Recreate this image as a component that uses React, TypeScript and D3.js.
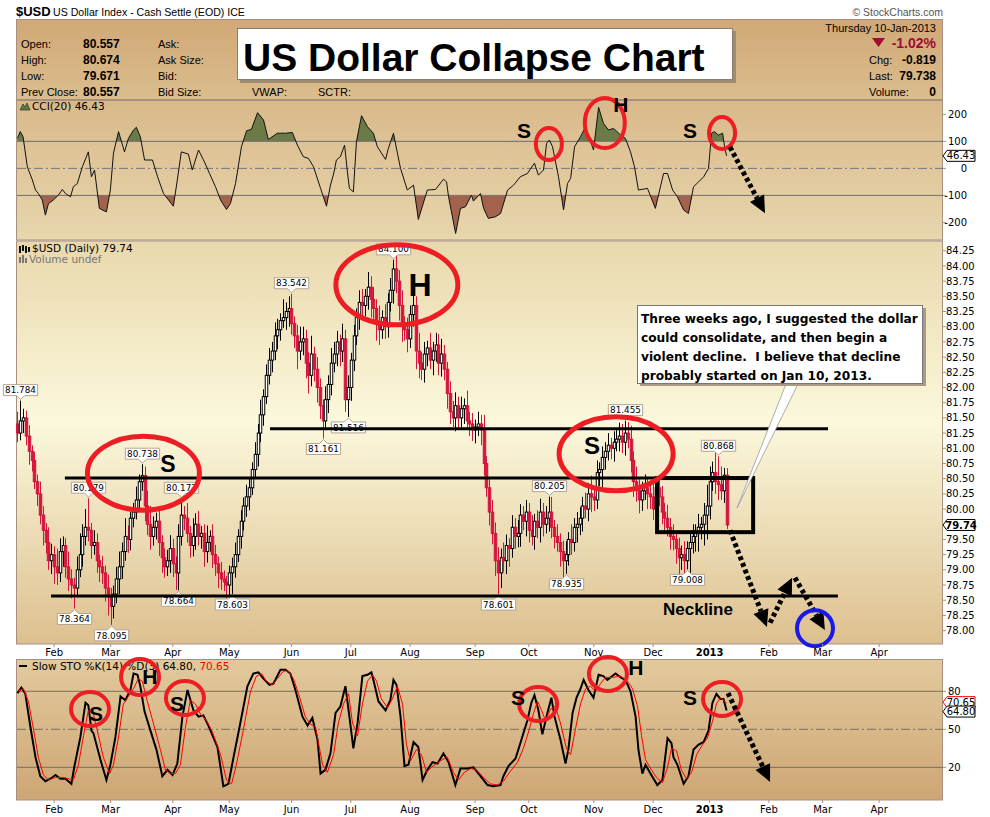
import React from 'react';
import * as d3 from 'd3';

// ---- daily bars (bar index 0 = mid Jan 2012, 251 = 10 Jan 2013)
const firstOpen = 81.4;
const closes = [
  81.25, 81.45, 81.50, 81.20, 80.95, 80.80, 80.45, 80.25, 79.90, 79.65,
  79.45, 79.15, 79.25, 79.05, 78.95, 79.30, 79.40, 79.05, 78.85, 78.75,
  78.70, 79.00, 79.25, 79.55, 79.70, 79.65, 79.40, 79.45, 79.15, 79.05,
  78.95, 78.70, 78.55, 78.40, 78.60, 78.85, 79.05, 79.30, 79.55, 79.50,
  79.85, 79.95, 80.15, 80.45, 80.55, 80.05, 79.75, 79.55, 79.70, 79.80,
  79.45, 79.20, 79.05, 79.15, 79.35, 79.10, 78.95, 79.55, 79.90, 79.85,
  79.60, 79.40, 79.55, 79.75, 79.55, 79.60, 79.30, 79.45, 79.55, 79.25,
  79.10, 78.95, 78.85, 78.80, 78.75, 78.95, 79.05, 79.25, 79.55, 79.80,
  80.05, 80.20, 80.35, 80.65, 80.90, 81.25, 81.55, 81.85, 82.20, 82.45,
  82.60, 82.85, 82.95, 83.10, 83.15, 83.25, 83.30, 83.05, 82.85, 82.60,
  82.75, 82.80, 82.40, 82.20, 82.55, 82.30, 82.00, 81.70, 81.45, 81.80,
  82.05, 82.40, 82.55, 82.75, 82.60, 82.80, 81.80, 82.00, 82.45, 82.85,
  83.15, 83.40, 83.35, 83.50, 83.65, 83.45, 83.30, 83.05, 82.95, 83.15,
  83.00, 83.40, 83.60, 83.95, 83.75, 83.35, 83.05, 82.95, 82.80, 83.20,
  83.35, 82.60, 82.40, 82.30, 82.55, 82.65, 82.45, 82.60, 82.70, 82.40,
  82.55, 82.30, 81.90, 81.60, 81.50, 81.70, 81.50, 81.65, 81.70, 81.45,
  81.40, 81.30, 81.35, 81.40, 81.30, 80.75, 80.35, 79.95, 79.60, 79.15,
  78.95, 79.20, 79.15, 79.40, 79.35, 79.70, 79.55, 79.60, 79.90, 79.80,
  79.95, 79.65, 79.55, 79.80, 79.70, 79.95, 79.75, 79.85, 79.95, 79.70,
  79.55, 79.45, 79.30, 79.15, 79.25, 79.50, 79.45, 79.70, 79.75, 79.85,
  80.05, 80.00, 80.25, 80.20, 80.15, 80.60, 80.65, 80.85, 80.95, 81.05,
  81.00, 81.10, 81.15, 81.20, 81.10, 81.25, 81.15, 80.80, 80.45, 80.30,
  80.15, 80.30, 80.35, 80.25, 80.20, 80.00, 80.35, 80.20, 79.95, 79.85,
  79.70, 79.55, 79.50, 79.35, 79.20, 79.25, 79.15, 79.35, 79.45, 79.55,
  79.60, 79.70, 79.75, 79.90, 80.05, 80.45, 80.60, 80.45, 80.40, 80.30,
  80.557, 79.738,
];
// wick above / below the body, in hundredths
const hiExt = [
  20, 28, 15, 12, 18, 10, 14, 12, 20, 15, 12, 25, 18, 14, 30, 22, 15, 12, 25, 16,
  12, 22, 35, 20, 30, 50, 12, 20, 15, 10, 18, 12, 22, 15, 14, 20, 25, 15, 30, 18,
  10, 15, 22, 12, 20, 15, 25, 30, 18, 14, 20, 12, 15, 18, 22, 16, 12, 20, 30, 15,
  25, 12, 30, 18, 22, 12, 15, 28, 10, 20, 16, 12, 18, 14, 10, 12, 15, 20, 12, 18,
  14, 20, 15, 12, 20, 15, 25, 12, 18, 20, 15, 22, 18, 12, 30, 15, 20, 25, 12, 18,
  25, 20, 15, 18, 30, 12, 20, 15, 10, 22, 15, 25, 20, 18, 12, 25, 15, 20, 12, 18,
  15, 20, 22, 12, 25, 18, 20, 15, 30, 12, 22, 15, 20, 10, 30, 18, 25, 12, 20, 15,
  22, 15, 30, 18, 20, 12, 25, 15, 20, 18, 25, 15, 12, 20, 18, 22, 15, 20, 12, 25,
  15, 18, 12, 20, 15, 25, 12, 15, 20, 18, 22, 15, 25, 18, 12, 20, 15, 22, 18, 15,
  20, 15, 25, 12, 18, 22, 15, 20, 15, 25, 12, 20, 15, 18, 22, 12, 25, 15, 20, 18,
  15, 22, 18, 30, 15, 20, 12, 18, 15, 20, 12, 18, 15, 22, 20, 15, 18, 22, 15, 25,
  20, 15, 22, 18, 15, 25, 12, 20, 18, 15, 22, 15, 20, 12, 18, 15, 22, 12, 18, 20,
  15, 22, 12, 20, 35, 25, 18, 45, 20, 30, 12, 12,
];
const loExt = [
  15, 12, 20, 15, 22, 18, 12, 20, 15, 25, 18, 15, 22, 28, 20, 15, 25, 18, 20, 22,
  25, 15, 12, 20, 15, 18, 22, 15, 20, 25, 18, 22, 30, 25, 20, 15, 25, 20, 15, 22,
  18, 15, 12, 20, 15, 25, 18, 22, 15, 20, 22, 25, 18, 15, 20, 22, 28, 30, 15, 20,
  15, 20, 18, 22, 15, 20, 25, 18, 15, 22, 20, 25, 18, 15, 22, 20, 15, 18, 12, 20,
  15, 18, 22, 12, 15, 20, 15, 18, 12, 15, 20, 15, 22, 18, 12, 20, 25, 18, 20, 30,
  15, 22, 25, 30, 18, 20, 25, 22, 20, 15, 22, 18, 15, 20, 25, 18, 20, 15, 22, 18,
  15, 20, 25, 18, 22, 30, 20, 28, 25, 15, 20, 18, 15, 22, 20, 25, 30, 18, 22, 15,
  20, 30, 25, 18, 22, 20, 15, 25, 18, 20, 22, 18, 25, 20, 15, 22, 18, 20, 25, 15,
  20, 18, 22, 15, 25, 20, 15, 22, 18, 25, 20, 25, 18, 22, 30, 15, 20, 18, 22, 15,
  25, 20, 15, 22, 18, 25, 20, 15, 22, 18, 20, 15, 25, 30, 22, 18, 20, 15, 25, 18,
  22, 15, 20, 25, 18, 15, 22, 30, 20, 15, 18, 22, 15, 20, 18, 22, 15, 20, 25, 18,
  22, 18, 15, 25, 20, 18, 22, 15, 20, 25, 15, 22, 18, 25, 30, 20, 35, 22, 40, 18,
  25, 30, 20, 35, 40, 22, 15, 20, 25, 15, 20, 7,
];
// labelled swing highs / lows: [bar, value, side]
const pivots: [number, number, 'hi' | 'lo'][] = [
  [1, 81.784, 'hi'], [20, 78.364, 'lo'], [25, 80.179, 'hi'], [33, 78.095, 'lo'],
  [44, 80.738, 'hi'], [57, 78.664, 'lo'], [58, 80.177, 'hi'], [76, 78.603, 'lo'],
  [97, 83.542, 'hi'], [108, 81.161, 'lo'], [117, 81.516, 'lo'], [133, 84.1, 'hi'],
  [170, 78.601, 'lo'], [188, 80.205, 'hi'], [194, 78.935, 'lo'], [215, 81.455, 'hi'],
  [237, 79.008, 'lo'], [248, 80.868, 'hi'],
];

// CCI(20): [bar, value]
const cciPoints: [number, number][] = [
  [0, 111], [1, 136], [2, 117], [3.5, 6], [5.3, -43], [6.4, -80], [7.4, -93], [8.8, -117], [9.9, -173],
  [11, -130], [12.7, -117], [14.5, -99], [15.9, -78], [17, -93], [18.8, -105], [19.8, -68], [21.2, -56],
  [23, 6], [25.1, 61], [26.2, -31], [27.3, -6], [29, -148], [31.5, -161], [32.9, -80], [34, 56],
  [35.8, 136], [37.9, 61], [39.3, 111], [41.1, 142], [42.1, 152], [43.5, 117], [45, 31], [47.8, 31],
  [49.6, -31], [51.7, -93], [53.5, -117], [55.2, -140], [56.6, -43], [58, 61], [60.5, 53], [61.9, -6],
  [64.1, 68], [66.2, 24], [68, -19], [70.1, -68], [71.9, -117], [74, -152], [75.4, -130], [77.2, -56],
  [79.3, 80], [81.1, 139], [82.8, 144], [85, 206], [87.1, 179], [88.8, 107], [92, 130], [94.9, 130],
  [97.3, 133], [99.1, 86], [101.2, 43], [103, 37], [104.8, 6], [107.3, -74], [109.4, -140], [110.8, -62],
  [111.9, -21], [112.9, 31], [114.3, 43], [115.8, 86], [116.8, -13], [117.5, -74], [118.9, -87],
  [120, 99], [121.8, 195], [123.9, 154], [126, 130], [127.4, 80], [130.3, 33], [131.3, 74], [133.1, 130],
  [134.5, 56], [135.6, 0], [138, -80], [140.2, -62], [141.9, -189], [145.1, -80], [148, -78],
  [150.8, -40], [151.9, -50], [152.6, -105], [155.1, -241], [156.8, -148], [158.6, -142], [160.7, -99],
  [161.4, -121], [163.9, -93], [165, -148], [166.7, -185], [169.2, -179], [171, -167], [173.5, -80],
  [175.6, -62], [178, -31], [180.5, -19], [183, 19], [184.4, -25], [186.2, -6], [187.3, 93], [188.3, 105],
  [189.4, 80], [191.5, -31], [193.3, -154], [194.7, -56], [195.8, -37], [197.2, 80], [199.3, 117],
  [201.1, 154], [203.9, 68], [205.7, 226], [207.4, 167], [209.2, 142], [211, 148], [213.5, 123],
  [215.2, 111], [217, 61], [218.4, 6], [219.8, -80], [223, -74], [225.8, -148], [228.7, -19],
  [230.1, -19], [231.9, -80], [233.6, -105], [235.8, -154], [237.5, -167], [239.3, -68], [241.1, -50],
  [242.9, -31], [244.6, 0], [245.7, 130], [246.7, 136], [248.1, 123], [249.6, 130], [250.3, 80],
  [251, 46.43],
];

// Slow STO %K(14) and %D(3): [bar, value]
const stoK: [number, number][] = [
  [0, 78.5], [1.4, 83], [2.8, 78], [4.6, 52], [6.4, 28], [8.1, 13], [9.9, 9], [11.7, 11], [13.5, 14],
  [15.2, 11], [17, 11], [19.1, 7], [20.2, 21], [22.3, 44], [24.1, 71], [25.1, 69], [26.2, 49], [26.9, 47],
  [29.4, 26], [31.5, 10], [32.9, 22], [34.7, 44], [36.5, 76], [38.2, 73], [40, 81], [41.1, 94],
  [42.5, 93], [43.5, 84], [45, 64], [47.1, 49], [49.2, 34], [51.3, 13], [53.1, 18], [54.9, 14],
  [56.6, 23], [58.4, 60], [60.2, 81], [62.3, 65], [64.1, 60], [65.8, 61], [67.6, 53], [70.8, 36],
  [72.9, 5], [74.7, 7], [76.5, 28], [78.9, 55], [81.4, 84], [83.5, 94], [85.3, 95], [87.1, 90],
  [89.2, 85], [90.6, 86], [93.1, 97], [94.9, 97], [96.6, 94], [98.4, 81], [100.9, 60], [102.7, 53],
  [104.4, 59], [106.2, 42], [107.3, 15], [109, 18], [110.8, 31], [112.6, 63], [114.3, 68], [116.1, 84],
  [117.5, 60], [118.9, 35], [120.4, 55], [122.1, 92], [123.9, 93], [125.3, 95], [126, 89], [127.8, 72],
  [130.3, 65], [132, 73], [133.1, 89], [134.2, 85], [135.6, 60], [137, 21], [138.4, 22], [140.2, 40],
  [141.9, 36], [143.4, 10], [145.1, 18], [146.9, 24], [148.7, 23], [150.8, 31], [152.6, 24], [155, 6],
  [156.8, 19], [159.3, 19], [161.4, 20], [163.9, 13], [166.4, 6], [168.5, 5], [171, 6], [172, 13],
  [173.8, 21], [176.3, 27], [178, 39], [179.1, 47], [180.5, 57], [181.9, 71], [183, 77], [184.4, 65],
  [185.8, 46], [187.6, 63], [189, 75], [190.1, 60], [192.2, 42], [194, 23], [195, 34], [196.5, 63],
  [197.9, 75], [199.3, 82], [200.4, 89], [202.1, 81], [203.9, 75], [205.7, 93], [207.4, 92], [208.8, 89],
  [211.7, 94], [213.5, 91], [215.2, 89], [217, 80], [218.8, 60], [219.8, 34], [221.2, 15], [222.3, 22],
  [224.1, 15], [226.5, 6], [228.3, 10], [230.1, 43], [231.5, 39], [232.2, 28], [233.6, 22], [235.8, 7],
  [237.5, 13], [239.3, 34], [241.1, 38], [242.9, 40], [244.6, 49], [246, 71], [247.4, 78], [248.8, 74],
  [249.9, 74], [251, 64.8],
];
const stoD: [number, number][] = [
  [0, 80], [2.1, 82], [3.9, 72], [5.7, 50], [7.4, 28], [9.2, 14], [11, 10], [13.5, 12], [15.9, 12],
  [18.1, 11], [19.8, 10], [21.6, 22], [23.4, 45], [25.1, 65], [26.9, 62], [28.7, 45], [30.4, 28],
  [32.6, 15], [34, 22], [35.8, 44], [37.5, 70], [39.3, 76], [41.1, 82], [42.8, 90], [44.2, 88], [46, 72],
  [48.1, 55], [50.6, 34], [52.4, 18], [54.2, 15], [55.9, 15], [57.7, 22], [59.5, 52], [61.2, 73], [63, 70],
  [64.8, 62], [66.9, 57], [69, 48], [71.9, 30], [74, 10], [75.8, 7], [77.5, 22], [80, 50], [82.5, 80],
  [84.6, 92], [86.4, 94], [88.1, 88], [90.3, 85], [92, 90], [94.2, 96], [95.9, 96], [97.7, 90], [99.5, 78],
  [101.9, 60], [103.7, 54], [105.5, 52], [108, 22], [109.7, 16], [111.9, 30], [113.6, 55], [115.4, 70],
  [117.2, 78], [118.6, 55], [120.4, 45], [122.1, 70], [123.9, 88], [125.7, 93], [127.1, 88], [128.8, 74],
  [131, 67], [132.7, 74], [134.5, 84], [136.3, 70], [137.7, 38], [139.1, 25], [141.2, 34], [143, 30],
  [144.8, 16], [146.5, 20], [148.3, 23], [150.4, 26], [152.2, 28], [154.3, 16], [156.1, 10], [158.2, 16],
  [160.4, 19], [162.5, 18], [165, 12], [167.4, 7], [169.9, 6], [172, 9], [174.5, 17], [177, 24], [179.1, 35],
  [180.9, 48], [182.7, 63], [184.1, 72], [185.5, 65], [186.9, 57], [188.7, 66], [190.4, 68], [192.2, 55],
  [194.3, 35], [195.8, 30], [197.5, 50], [199.3, 70], [201.1, 82], [202.8, 84], [204.6, 80], [206.4, 86],
  [208.1, 91], [210.6, 91], [213.5, 92], [215.9, 88], [217.7, 82], [219.5, 68], [220.9, 45], [222.3, 26],
  [224.1, 19], [226.2, 12], [228.3, 8], [230.1, 20], [231.5, 35], [233.3, 33], [235, 18], [236.8, 11],
  [238.6, 16], [240.4, 30], [242.5, 38], [244.2, 43], [246, 56], [247.4, 70], [248.8, 75], [251, 70.65],
];

const monthTicks: [number, string][] = [
  [13, 'Feb'], [33, 'Mar'], [55, 'Apr'], [75, 'May'], [97, 'Jun'], [118, 'Jul'], [139, 'Aug'],
  [162, 'Sep'], [181, 'Oct'], [204, 'Nov'], [225, 'Dec'], [245, '2013'], [266, 'Feb'], [285, 'Mar'],
  [305, 'Apr'],
];
const priceTicks = [84.25, 84, 83.75, 83.5, 83.25, 83, 82.75, 82.5, 82.25, 82, 81.75, 81.5, 81.25, 81,
  80.75, 80.5, 80.25, 80, 79.5, 79.25, 79, 78.75, 78.5, 78.25, 78];
const cciTicks = [200, 100, 0, -100, -200];
const stoTicks = [80, 50, 20];

const quoteLeft: [string, string][] = [['Open:', '80.557'], ['High:', '80.674'], ['Low:', '79.671'], ['Prev Close:', '80.557']];
const quoteMid = ['Ask:', 'Ask Size:', 'Bid:', 'Bid Size:'];
const quoteRight: [string, string][] = [['Chg:', '-0.819'], ['Last:', '79.738'], ['Volume:', '0']];
const lastBar = { high: 80.674, low: 79.671, close: 79.738, cci: 46.43, k: 64.8, d: 70.65 };

const noteLines = [
  'Three weeks ago, I suggested the dollar',
  'could consolidate, and then begin a',
  'violent decline.  I believe that decline',
  'probably started on Jan 10, 2013.',
];

const RED = '#d4143c';
const ANNO = '#ee1d23';
const AX = 'DejaVu Sans, Verdana, sans-serif';

const xDay = d3.scaleLinear().domain([-0.5, 327.6]).range([16, 943]);
const yPrice = d3.scaleLinear().domain([77.78, 84.41]).range([644, 241]);
const yCci = d3.scaleLinear().domain([-265, 253]).range([240, 100]);
const ySto = d3.scaleLinear().domain([-5.8, 105.5]).range([800, 659]);

const bars = closes.map((c, i) => {
  const o = i === 0 ? firstOpen : closes[i - 1];
  return { i, o, c, h: Math.max(o, c) + hiExt[i] / 100, l: Math.min(o, c) - loExt[i] / 100 };
});
pivots.forEach(([i, v, s]) => { if (s === 'hi') bars[i].h = v; else bars[i].l = v; });
bars[251].h = lastBar.high;
bars[251].l = lastBar.low;

function Arrow({ x1, y1, x2, y2 }: { x1: number; y1: number; x2: number; y2: number }) {
  const a = Math.atan2(y2 - y1, x2 - x1);
  const L = 17, w = 8;
  const bx = x2 - Math.cos(a) * L, by = y2 - Math.sin(a) * L;
  const px = -Math.sin(a) * w, py = Math.cos(a) * w;
  return (
    <g>
      <line x1={x1} y1={y1} x2={bx} y2={by} stroke="#000" strokeWidth={5} strokeDasharray="4 3" />
      <path d={`M${x2},${y2}L${bx + px},${by + py}L${bx - px},${by - py}Z`} fill="#000" />
    </g>
  );
}

function Tag({ y, text, color = '#000', bold = false }: { y: number; text: string; color?: string; bold?: boolean }) {
  return (
    <g>
      <path d={`M943,${y}L947,${y - 5.5}H975V${y + 5.5}H947Z`} fill="#fff" stroke={color} />
      <text x={961} y={y + 3.6} textAnchor="middle" fontFamily={AX} fontSize={10} fontWeight={bold ? 'bold' : 'normal'} fill="#000">{text}</text>
    </g>
  );
}

export default function App() {
  const lineCci = d3.line<[number, number]>().x(d => xDay(d[0])).y(d => yCci(d[1]));
  const areaCci = d3.area<[number, number]>().x(d => xDay(d[0])).y1(d => yCci(d[1]));
  const lineSto = d3.line<[number, number]>().x(d => xDay(d[0])).y(d => ySto(d[1]));

  const P = (day: number, price: number) => [xDay(day), yPrice(price)];
  const C = (day: number, v: number) => [xDay(day), yCci(v)];
  const S = (day: number, v: number) => [xDay(day), ySto(v)];

  const priceEllipses = [
    { c: P(44.6, 80.59), rx: 56, ry: 37 },
    { c: P(134.3, 83.69), rx: 61, ry: 40 },
    { c: P(211.9, 80.91), rx: 57, ry: 37 },
  ];
  const cciEllipses = [
    { c: C(188.1, 90), rx: 13, ry: 16 },
    { c: C(207.9, 168), rx: 20, ry: 25 },
    { c: C(249.4, 131), rx: 13, ry: 16 },
  ];
  const stoEllipses = [
    { c: S(25.7, 66), rx: 19, ry: 17 }, { c: S(43.4, 91.3), rx: 19, ry: 18 },
    { c: S(59.3, 74.7), rx: 19, ry: 17 }, { c: S(184.3, 70), rx: 19, ry: 17 },
    { c: S(209, 93.6), rx: 19, ry: 17 }, { c: S(249.4, 73.9), rx: 19, ry: 17 },
  ];
  const letters: { p: number[]; t: string; s: number }[] = [
    { p: P(53.3, 80.75), t: 'S', s: 23 }, { p: P(142.5, 83.7), t: 'H', s: 32 }, { p: P(203.4, 81.05), t: 'S', s: 24 },
    { p: C(179.3, 142), t: 'S', s: 21 }, { p: C(213.6, 238), t: 'H', s: 21 }, { p: C(238.1, 142), t: 'S', s: 21 },
    { p: S(27.8, 62.8), t: 'S', s: 21 }, { p: S(46.9, 92), t: 'H', s: 21 }, { p: S(56.5, 70.7), t: 'S', s: 21 },
    { p: S(177.2, 75.5), t: 'S', s: 21 }, { p: S(218.9, 99.2), t: 'H', s: 21 }, { p: S(238.1, 75.5), t: 'S', s: 21 },
  ];
  const hLines: [number, number, number][] = [[89.4, 286.9, 81.32], [16.8, 260.4, 80.51], [11.9, 290.4, 78.57]];
  const box = { d0: 226.4, d1: 260.4, p0: 80.51, p1: 79.62 };
  const arrowsPrice = [
    [P(252.2, 79.65), P(265.3, 78.06)],
    [P(266.4, 78.13), P(274.2, 78.87)],
    [P(275.2, 78.87), P(285.8, 78.01)],
  ];
  const blue = P(282.3, 78.04);

  return (
    <svg width={990} height={817} style={{ position: 'absolute', left: 0, top: 0, background: '#fff' }}
      fontFamily="Liberation Sans, Arial, sans-serif">
      <defs>
        <linearGradient id="gHead" x1="0" y1="0" x2="0" y2="1">
          <stop offset="0" stopColor="#d1a877" /><stop offset="1" stopColor="#dbbd8d" />
        </linearGradient>
        <linearGradient id="gCci" x1="0" y1="0" x2="0" y2="1">
          <stop offset="0" stopColor="#d9b98a" /><stop offset="1" stopColor="#e8d6ad" />
        </linearGradient>
        <linearGradient id="gPrice" x1="0" y1="0" x2="0" y2="1">
          <stop offset="0" stopColor="#e9d8ac" /><stop offset="0.45" stopColor="#fbf8dc" />
          <stop offset="1" stopColor="#ddc08f" />
        </linearGradient>
        <linearGradient id="gSto" x1="0" y1="0" x2="0" y2="1">
          <stop offset="0" stopColor="#e2c99c" /><stop offset="1" stopColor="#cea675" />
        </linearGradient>
        <clipPath id="cUp"><rect x={16} y={100} width={927} height={yCci(100) - 100} /></clipPath>
        <clipPath id="cDn"><rect x={16} y={yCci(-100)} width={927} height={240 - yCci(-100)} /></clipPath>
        <clipPath id="cPrice"><rect x={16} y={241} width={927} height={403} /></clipPath>
      </defs>

      {/* top line */}
      <text x={16} y={16} fontSize={13} fontWeight="bold">$USD</text>
      <text x={53} y={16} fontSize={10.6}>US Dollar Index - Cash Settle (EOD) ICE</text>
      <text x={943} y={16} fontSize={10.5} fill="#555" textAnchor="end">© StockCharts.com</text>

      {/* header panel */}
      <rect x={16.5} y={19.5} width={926} height={80} fill="url(#gHead)" stroke="#a89080" />
      {quoteLeft.map(([k, v], j) => (
        <g key={k}>
          <text x={21} y={48 + j * 16} fontSize={11}>{k}</text>
          <text x={83} y={48 + j * 16} fontSize={12} fontWeight="bold">{v}</text>
        </g>
      ))}
      {quoteMid.map((k, j) => <text key={k} x={158} y={48 + j * 16} fontSize={11}>{k}</text>)}
      <text x={252} y={96} fontSize={11}>VWAP:</text>
      <text x={318} y={96} fontSize={11}>SCTR:</text>
      <text x={936} y={32} fontSize={11} textAnchor="end">Thursday  10-Jan-2013</text>
      <path d="M872,38H885L878.5,47Z" fill="#9e0b35" />
      <text x={936} y={48} fontSize={14} fontWeight="bold" fill="#9e0b35" textAnchor="end">-1.02%</text>
      {quoteRight.map(([k, v], j) => (
        <g key={k}>
          <text x={869} y={64 + j * 16} fontSize={11}>{k}</text>
          <text x={936} y={64 + j * 16} fontSize={12} fontWeight="bold" textAnchor="end">{v}</text>
        </g>
      ))}
      <rect x={240} y={31} width={496} height={52} fill="#a08c72" />
      <rect x={237.5} y={28.5} width={495} height={51} fill="#fff" stroke="#8c7c6a" />
      <text x={243} y={71} fontSize={39} fontWeight="bold">US Dollar Collapse Chart</text>

      {/* CCI panel */}
      <rect x={16.5} y={100.5} width={926} height={139.5} fill="url(#gCci)" stroke="#a89080" />
      <path d={areaCci.y0(yCci(100))(cciPoints) || ''} fill="#6b7b47" clipPath="url(#cUp)" />
      <path d={areaCci.y0(yCci(-100))(cciPoints) || ''} fill="#a2624c" clipPath="url(#cDn)" />
      {[100, -100].map(v => <line key={v} x1={17} x2={943} y1={yCci(v)} y2={yCci(v)} stroke="#707070" />)}
      <line x1={17} x2={943} y1={yCci(0)} y2={yCci(0)} stroke="#6f7784" strokeDasharray="9 3 2 3" />
      <path d={lineCci(cciPoints) || ''} fill="none" stroke="#111" strokeWidth={1} />
      <path d="M20,110L23,104L25,107L27,103L30,110Z" fill="#5f7a3a" stroke="#222" strokeWidth={0.6} />
      <text x={32} y={110} fontFamily={AX} fontSize={10.5}>CCI(20) 46.43</text>
      {cciTicks.map(v => (
        <g key={v}>
          <line x1={943} x2={946} y1={yCci(v)} y2={yCci(v)} stroke="#a89080" />
          <text x={967} y={yCci(v) + 3.5} textAnchor="end" fontFamily={AX} fontSize={10}>{v}</text>
        </g>
      ))}
      <Tag y={yCci(lastBar.cci)} text="46.43" />

      {/* price panel */}
      <rect x={16.5} y={241} width={926} height={403} fill="url(#gPrice)" stroke="#a89080" />
      <g clipPath="url(#cPrice)">
        {bars.map(b => {
          const up = b.c >= b.o;
          const col = up ? '#000' : RED;
          const x = Math.round(xDay(b.i)) + 0.5;
          const yt = yPrice(Math.max(b.o, b.c)), yb = yPrice(Math.min(b.o, b.c));
          return (
            <g key={b.i}>
              <line x1={x} x2={x} y1={yPrice(b.h)} y2={yPrice(b.l)} stroke={col} />
              <rect x={x - 1.25} y={yt} width={2.5} height={Math.max(yb - yt, 0.5)} fill={up ? '#fff' : RED} stroke={col} />
            </g>
          );
        })}
      </g>
      {pivots.map(([i, v, s]) => {
        const t = v.toFixed(3);
        const cx = Math.round(xDay(i)) + 0.5;
        const w = t.length * 5.05 + 4;
        const x0 = cx - w / 2, x1 = cx + w / 2;
        if (s === 'hi') {
          const tip = yPrice(v) - 1;
          const b = tip - 4;
          return (
            <g key={i}>
              <path d={`M${x0},${b - 11}H${x1}V${b}H${cx + 4}L${cx},${tip}L${cx - 4},${b}H${x0}Z`} fill="#fff" stroke="#b5a393" />
              <text x={cx} y={b - 2.5} textAnchor="middle" fontFamily={AX} fontSize={8.8}>{t}</text>
            </g>
          );
        }
        const tip = yPrice(v) + 1;
        const b = tip + 4;
        return (
          <g key={i}>
            <path d={`M${x0},${b + 11}H${x1}V${b}H${cx + 4}L${cx},${tip}L${cx - 4},${b}H${x0}Z`} fill="#fff" stroke="#b5a393" />
            <text x={cx} y={b + 8.7} textAnchor="middle" fontFamily={AX} fontSize={8.8}>{t}</text>
          </g>
        );
      })}
      <g fill="#111">
        <rect x={19} y={246} width={2} height={7} /><rect x={22} y={245} width={2} height={6} />
        <rect x={25} y={246} width={2} height={7} /><rect x={28} y={247} width={2} height={5} />
      </g>
      <text x={32} y={252} fontFamily={AX} fontSize={10.5}>$USD (Daily) 79.74</text>
      <g fill="#777">
        <rect x={19} y={257} width={2} height={6} /><rect x={22} y={255} width={2} height={8} /><rect x={25} y={258} width={2} height={5} />
      </g>
      <text x={29} y={263} fontFamily={AX} fontSize={10.5} fill="#777">Volume undef</text>
      {priceTicks.map(v => (
        <g key={v}>
          <line x1={943} x2={946} y1={yPrice(v)} y2={yPrice(v)} stroke="#a89080" />
          <text x={946} y={yPrice(v) + 3.6} fontFamily={AX} fontSize={10}>{v.toFixed(2)}</text>
        </g>
      ))}
      <Tag y={yPrice(lastBar.close)} text="79.74" bold />

      {/* price annotations */}
      {hLines.map(([d0, d1, p]) => (
        <line key={p} x1={xDay(d0)} x2={xDay(d1)} y1={yPrice(p)} y2={yPrice(p)} stroke="#000" strokeWidth={3} />
      ))}
      <rect x={xDay(box.d0)} y={yPrice(box.p0)} width={xDay(box.d1) - xDay(box.d0)} height={yPrice(box.p1) - yPrice(box.p0)}
        fill="none" stroke="#000" strokeWidth={4} />
      {priceEllipses.map((e, k) => (
        <ellipse key={k} cx={e.c[0]} cy={e.c[1]} rx={e.rx} ry={e.ry} fill="none" stroke={ANNO} strokeWidth={5} />
      ))}
      {arrowsPrice.map((a, k) => <Arrow key={k} x1={a[0][0]} y1={a[0][1]} x2={a[1][0]} y2={a[1][1]} />)}
      <circle cx={blue[0]} cy={blue[1]} r={18} fill="none" stroke="#1a1ae8" strokeWidth={4} />
      <text x={xDay(228.5)} y={yPrice(78.26)} fontSize={17} fontWeight="bold">Neckline</text>

      {/* callout */}
      <path d="M786,384L798,384L737,508Z" fill="#fff" stroke="#999" strokeWidth={0.8} />
      <rect x={640} y={308} width={286} height={78} fill="#a99a86" />
      <rect x={637.5} y={305.5} width={285} height={78} fill="#fff" stroke="#777" />
      {noteLines.map((t, j) => (
        <text key={j} x={641} y={323 + j * 19} fontFamily={AX} fontSize={12.2} fontWeight="bold" style={{ whiteSpace: 'pre' }}>{t}</text>
      ))}

      {/* month labels */}
      {monthTicks.map(([d, t]) => (
        <g key={t + d}>
          <line x1={xDay(d)} x2={xDay(d)} y1={644} y2={647} stroke="#a89080" />
          <line x1={xDay(d)} x2={xDay(d)} y1={800} y2={803} stroke="#a89080" />
          <text x={xDay(d)} y={656} textAnchor="middle" fontFamily={AX} fontSize={10} fontWeight={t === '2013' ? 'bold' : 'normal'}>{t}</text>
          <text x={xDay(d)} y={813} textAnchor="middle" fontFamily={AX} fontSize={10} fontWeight={t === '2013' ? 'bold' : 'normal'}>{t}</text>
        </g>
      ))}

      {/* STO panel */}
      <rect x={16.5} y={659.5} width={926} height={140.5} fill="url(#gSto)" stroke="#a89080" />
      {[80, 20].map(v => <line key={v} x1={17} x2={943} y1={ySto(v)} y2={ySto(v)} stroke="#7a6e62" />)}
      <line x1={17} x2={943} y1={ySto(50)} y2={ySto(50)} stroke="#7a6e62" strokeDasharray="9 3 2 3" />
      <path d={lineSto(stoK) || ''} fill="none" stroke="#000" strokeWidth={2} />
      <path d={lineSto(stoD) || ''} fill="none" stroke="#f00" strokeWidth={1} />
      <line x1={19} x2={27} y1={666} y2={666} stroke="#000" strokeWidth={2} />
      <text x={32} y={670} fontFamily={AX} fontSize={10.5}>Slow STO %K(14) %D(3) 64.80, <tspan fill="#f00">70.65</tspan></text>
      {stoTicks.map(v => (
        <g key={v}>
          <line x1={943} x2={946} y1={ySto(v)} y2={ySto(v)} stroke="#a89080" />
          <text x={948} y={ySto(v) + 3.6} fontFamily={AX} fontSize={10}>{v}</text>
        </g>
      ))}
      <Tag y={ySto(lastBar.d) - 1} text="70.65" color="#f00" />
      <Tag y={ySto(lastBar.k) + 1} text="64.80" />

      {/* indicator annotations */}
      {cciEllipses.concat(stoEllipses).map((e, k) => (
        <ellipse key={k} cx={e.c[0]} cy={e.c[1]} rx={e.rx} ry={e.ry} fill="none" stroke={ANNO} strokeWidth={4} />
      ))}
      <Arrow x1={xDay(252.2)} y1={yCci(79)} x2={xDay(264.6)} y2={yCci(-166)} />
      <Arrow x1={xDay(251.5)} y1={ySto(78.6)} x2={xDay(266.4)} y2={ySto(8.4)} />
      {letters.map((l, k) => (
        <text key={k} x={l.p[0]} y={l.p[1] + l.s * 0.36} textAnchor="middle" fontSize={l.s} fontWeight="bold">{l.t}</text>
      ))}
    </svg>
  );
}
